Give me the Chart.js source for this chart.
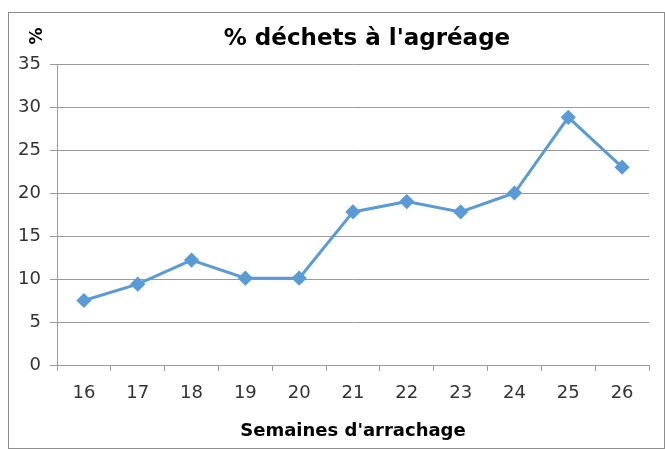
<!DOCTYPE html>
<html>
<head>
<meta charset="utf-8">
<script src="https://cdn.jsdelivr.net/npm/chart.js@4/dist/chart.umd.min.js"></script>
<style>
  html, body { margin: 0; padding: 0; background: #fff; }
  #wrap { position: relative; width: 665px; height: 450px; }
</style>
</head>
<body>
<div id="wrap"><canvas id="chart" width="665" height="450"></canvas></div>
<script>
// données
const weeks = ['16', '17', '18', '19', '20', '21', '22', '23', '24', '25', '26'];
const wastePct = [7.5, 9.4, 12.2, 10.1, 10.1, 17.8, 19.0, 17.8, 20.0, 28.8, 23.0];
const yTicks = [0, 5, 10, 15, 20, 25, 30, 35];

const chartTitle = "% déchets à l'agréage";
const xTitle = "Semaines d'arrachage";
const yTitle = "%";

const gridClr = '#9a9a9a';
const lineClr = '#5b9bd5';

// cadre + titres dessinés à la main (position comme dans Excel)
const decorPlugin = {
    id: 'decor',
    beforeDraw(chart) {
        const ctx = chart.ctx;
        ctx.save();
        ctx.fillStyle = '#fff';
        ctx.fillRect(0, 0, chart.width, chart.height);
        ctx.strokeStyle = '#8c8c8c';
        ctx.lineWidth = 1;
        ctx.strokeRect(8.5, 12.5, 656, 436);
        ctx.restore();
    },
    afterDraw(chart) {
        const ctx = chart.ctx;
        ctx.save();
        ctx.fillStyle = '#000';
        ctx.textAlign = 'center';
        ctx.textBaseline = 'middle';
        ctx.font = 'bold 23px "DejaVu Sans"';
        ctx.fillText(chartTitle, 367, 39);

        ctx.translate(38, 36);
        ctx.rotate(-Math.PI / 2);
        ctx.font = 'bold 17px "DejaVu Sans"';
        ctx.fillText(yTitle, 0, 0);
        ctx.restore();
    }
};

new Chart(document.getElementById('chart'), {
    type: 'line',
    data: {
        labels: weeks,
        datasets: [{
            data: wastePct,
            borderColor: lineClr,
            backgroundColor: lineClr,
            borderWidth: 3,
            pointStyle: 'rectRot',
            pointRadius: 5.5,
            pointHoverRadius: 5.5,
            tension: 0
        }]
    },
    options: {
        responsive: false,
        animation: false,
        layout: { padding: { top: 64, right: 16, left: 0, bottom: 0 } },
        plugins: { legend: { display: false }, tooltip: { enabled: false } },
        scales: {
            x: {
                offset: true,
                grid: { offset: true, drawOnChartArea: false, drawTicks: true, tickLength: 6, color: gridClr },
                border: { color: gridClr },
                ticks: { color: '#333', font: { family: 'DejaVu Sans', size: 18 }, padding: 12, maxRotation: 0 },
                title: { display: true, text: xTitle, color: '#000', font: { family: 'DejaVu Sans', size: 18, weight: 'bold' }, padding: { top: 0, bottom: 8 } },
                afterFit(scale) { scale.height = 85; }
            },
            y: {
                min: 0, max: 35,
                afterBuildTicks(scale) { scale.ticks = yTicks.map(v => ({ value: v })); },
                grid: { color: gridClr, tickLength: 7 },
                border: { color: gridClr },
                ticks: { color: '#333', font: { family: 'DejaVu Sans', size: 18 }, padding: 9 },
                afterFit(scale) { scale.width = 57; }
            }
        }
    },
    plugins: [decorPlugin]
});
</script>
</body>
</html>
